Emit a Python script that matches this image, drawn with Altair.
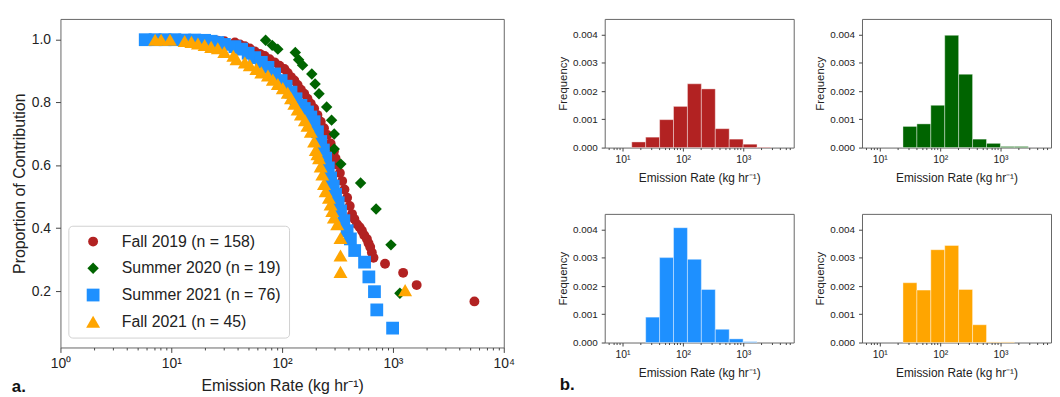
import altair as alt
import pandas as pd

FONT = "Liberation Sans"

SERIES = ["Fall 2019", "Summer 2020", "Summer 2021", "Fall 2021"]
COUNTS = [158, 19, 76, 45]
COLORS = ["#b22222", "#006400", "#1e90ff", "#ffa500"]
SHAPES = ["circle", "diamond", "square", "triangle-up"]
SIZES = [100, 200, 95, 120]

FALL2019_RATE = [6.67, 7.66, 8.78, 10.07, 11.55, 13.24, 15.19, 17.42, 19.98, 22.91,
                 26.28, 30.14, 37.5, 41.6, 46.1, 51.1, 56.6, 62.8, 69.6, 77.1,
                 85.5, 94.7, 104.9, 112.4, 120.3, 128.9, 138.0, 147.8, 158.3, 169.5,
                 181.6, 194.5, 208.3, 223.1, 238.8, 255.8, 274.0, 293.3, 303.5, 314.2,
                 331.9, 348.2, 365.2, 385.9, 407.6, 427.7, 448.6, 473.8, 500.6, 525.2,
                 551.0, 582.1, 602.3, 623.5, 645.1, 667.7, 848.5, 1236, 1637, 5433]
FALL2019_PROP = [1.0, 1.0, 1.0, 1.0, 1.0, 1.0, 1.0, 1.0, 0.999, 0.998,
                 0.997, 0.995, 0.991, 0.985, 0.979, 0.972, 0.963, 0.955, 0.948, 0.938,
                 0.928, 0.917, 0.907, 0.894, 0.881, 0.870, 0.856, 0.841, 0.828, 0.812,
                 0.796, 0.781, 0.760, 0.739, 0.718, 0.697, 0.670, 0.644, 0.623, 0.602,
                 0.576, 0.550, 0.523, 0.497, 0.471, 0.445, 0.429, 0.413, 0.403, 0.392,
                 0.378, 0.366, 0.352, 0.340, 0.323, 0.306, 0.287, 0.258, 0.219, 0.167]

SUMMER2020_RATE = [11.9, 71.0, 81.4, 91.5, 131.5, 140.9, 153.0, 185.3, 198.5, 215.3,
                   252.3, 279.5, 295.3, 295.3, 338.8, 510.6, 704.7, 959.6, 1155]
SUMMER2020_PROP = [1.0, 0.998, 0.982, 0.970, 0.959, 0.936, 0.919, 0.891, 0.859, 0.828,
                   0.786, 0.744, 0.700, 0.652, 0.604, 0.544, 0.461, 0.347, 0.193]

SUMMER2021_RATE = [5.82, 7.15, 8.78, 10.78, 13.24, 16.27, 19.98, 22.91, 26.28, 30.14,
                   37.5, 43.1, 49.4, 56.6, 64.9, 74.5, 85.5, 98.0, 108.6, 120.3,
                   133.5, 147.8, 158.3, 169.5, 181.6, 194.5, 208.3, 223.1, 235.6, 247.2,
                   261.1, 274.0, 289.4, 303.5, 320.7, 336.6, 360.2, 385.9, 413.0, 451.6,
                   554.6, 606.4, 681.2, 714.9, 993.0]
SUMMER2021_PROP = [1.0, 1.0, 1.0, 1.0, 0.999, 0.999, 0.998, 0.995, 0.991, 0.985,
                   0.978, 0.970, 0.957, 0.943, 0.928, 0.912, 0.891, 0.870, 0.852, 0.833,
                   0.812, 0.791, 0.781, 0.770, 0.754, 0.739, 0.707, 0.676, 0.649, 0.623,
                   0.592, 0.560, 0.534, 0.508, 0.481, 0.455, 0.424, 0.392, 0.366, 0.329,
                   0.292, 0.245, 0.198, 0.140, 0.082]

FALL2021_RATE = [7.15, 8.09, 9.73, 13.2, 15.2, 17.4, 20.0, 22.9, 26.3, 30.1,
                 36.3, 38.8, 46.1, 51.1, 58.6, 64.9, 74.5, 82.5, 91.5, 101.4,
                 112.4, 120.3, 128.9, 138.0, 147.8, 160.5, 169.5, 181.6, 194.4, 201.2,
                 208.2, 215.4, 222.9, 230.7, 238.8, 247.1, 264.6, 273.8, 283.4, 293.3,
                 314.1, 336.3, 336.3, 336.3, 1288]
FALL2021_PROP = [1.0, 1.0, 1.0, 0.996, 0.993, 0.988, 0.983, 0.977, 0.973, 0.961,
                 0.949, 0.938, 0.928, 0.919, 0.907, 0.896, 0.886, 0.873, 0.859, 0.846,
                 0.831, 0.814, 0.796, 0.778, 0.762, 0.744, 0.726, 0.707, 0.676, 0.649,
                 0.636, 0.623, 0.597, 0.571, 0.541, 0.518, 0.497, 0.476, 0.455, 0.434,
                 0.413, 0.369, 0.313, 0.261, 0.203]

BIN_EDGES = [14.22, 24.19, 41.14, 69.97, 119.0, 202.3, 344.1, 585.2, 995.0, 1692, 2877]
HIST_FALL2019 = [0.00020, 0.00037, 0.00099, 0.00146, 0.00226, 0.00208, 0.00067, 0.00030, 0.00012, 0.00002]
HIST_SUMMER2020 = [0, 0.00075, 0.00084, 0.00150, 0.00398, 0.00260, 0.00030, 0.00015, 0.00004, 0.00004]
HIST_SUMMER2021 = [0, 0.00090, 0.00301, 0.00407, 0.00295, 0.00188, 0.00047, 0.00013, 0.00003, 0]
HIST_FALL2021 = [0, 0.00212, 0.00186, 0.00329, 0.00344, 0.00188, 0.00063, 0.00002, 0.00002, 0]

MAIN_X_TICKS = [m * 10 ** k for k in range(4) for m in range(1, 10)] + [10000]
HIST_X_TICKS = [6, 7, 8, 9] + [m * 10 ** k for k in range(1, 3) for m in range(1, 10)] + [1000, 2000, 3000, 4000, 5000, 6000]

LABEL_EXPR = ("datum.value === 1 ? '10⁰' : datum.value === 10 ? '10¹' : "
              "datum.value === 100 ? '10²' : datum.value === 1000 ? '10³' : "
              "datum.value === 10000 ? '10⁴' : ''")
MAJOR_TEST = "indexof([1, 10, 100, 1000, 10000], datum.value) >= 0"

labels = [f"{s} (n = {n})" for s, n in zip(SERIES, COUNTS)]
rates = [FALL2019_RATE, SUMMER2020_RATE, SUMMER2021_RATE, FALL2021_RATE]
props = [FALL2019_PROP, SUMMER2020_PROP, SUMMER2021_PROP, FALL2021_PROP]
frames = []
for lab, r, p in zip(labels, rates, props):
    frames.append(pd.DataFrame({"series": lab, "rate": r, "prop": p}))
df = pd.concat(frames, ignore_index=True)

legend = alt.Legend(
    title=None, orient="none", legendX=8, legendY=209,
    labelFont=FONT, labelFontSize=16, labelColor="#222", labelLimit=400,
    symbolSize=140, symbolOffset=9, labelOffset=21, rowPadding=11,
    padding=8, strokeColor="#d0d0d0", fillColor="white", cornerRadius=4,
    symbolStrokeWidth=0,
)

W, H = 448, 332
scatter = alt.Chart(df).mark_point(filled=True, opacity=1, strokeWidth=0).encode(
    x=alt.X("rate:Q",
            scale=alt.Scale(type="log", domain=[1, 10000], nice=False),
            axis=alt.Axis(values=MAIN_X_TICKS, labelExpr=LABEL_EXPR,
                          title="Emission Rate (kg hr⁻¹)", titleFontSize=16,
                          labelFontSize=14, labelPadding=4, titlePadding=7,
                          tickSize={"condition": {"test": MAJOR_TEST, "value": 5}, "value": 2.5},
                          labelFlush=False, labelOverlap=False, grid=False)),
    y=alt.Y("prop:Q",
            scale=alt.Scale(domain=[0.0204, 1.0661], nice=False, zero=False),
            axis=alt.Axis(values=[0.2, 0.4, 0.6, 0.8, 1.0], format=".1f",
                          title="Proportion of Contribution", titleFontSize=16,
                          labelFontSize=14, labelPadding=5, tickSize=5, titlePadding=4,
                          grid=False)),
    color=alt.Color("series:N", scale=alt.Scale(domain=labels, range=COLORS), legend=legend),
    shape=alt.Shape("series:N", scale=alt.Scale(domain=labels, range=SHAPES), legend=legend),
    size=alt.Size("series:N", scale=alt.Scale(domain=labels, range=SIZES), legend=None),
)

tag_a = alt.Chart(pd.DataFrame({"t": ["a."]})).mark_text(
    font=FONT, fontSize=17, fontWeight="bold", align="center", baseline="middle", color="#111"
).encode(x=alt.value(-42), y=alt.value(372), text="t:N")

left = alt.layer(scatter, tag_a).properties(width=W, height=H)

HW, HH = 191, 130


def hist_chart(values, color, tag=None):
    d = pd.DataFrame({"x0": BIN_EDGES[:-1], "x1": BIN_EDGES[1:], "h": values})
    d["base"] = 0.0
    d = d[d["h"] > 0]
    bars = alt.Chart(d).mark_rect(color=color, stroke="white", strokeWidth=0.4).encode(
        x=alt.X("x0:Q",
                scale=alt.Scale(type="log", domain=[5.07, 6855], nice=False),
                axis=alt.Axis(values=HIST_X_TICKS, labelExpr=LABEL_EXPR,
                              title="Emission Rate (kg hr⁻¹)", titleFontSize=12,
                              labelFontSize=10.5, labelPadding=4, titlePadding=7,
                              tickSize={"condition": {"test": MAJOR_TEST, "value": 3.5}, "value": 2},
                              labelFlush=False, labelOverlap=False, grid=False)),
        x2="x1:Q",
        y=alt.Y("h:Q",
                scale=alt.Scale(domain=[0, 0.00456], nice=False),
                axis=alt.Axis(values=[0, 0.001, 0.002, 0.003, 0.004], format=".3f",
                              title="Frequency", titleFontSize=11.5, labelFontSize=10,
                              labelPadding=4, tickSize=3.5, titlePadding=4, grid=False)),
        y2="base:Q",
    )
    layers = [bars]
    if tag:
        layers.append(alt.Chart(pd.DataFrame({"t": [tag]})).mark_text(
            font=FONT, fontSize=17, fontWeight="bold", align="center", baseline="middle", color="#111"
        ).encode(x=alt.value(-38), y=alt.value(173), text="t:N"))
    return alt.layer(*layers).properties(width=HW, height=HH)


h1 = hist_chart(HIST_FALL2019, COLORS[0])
h2 = hist_chart(HIST_SUMMER2020, COLORS[1])
h3 = hist_chart(HIST_SUMMER2021, COLORS[2], tag="b.")
h4 = hist_chart(HIST_FALL2021, COLORS[3])

right = alt.vconcat(
    alt.hconcat(h1, h2, spacing=19),
    alt.hconcat(h3, h4, spacing=19),
    spacing=29,
)

chart = alt.hconcat(left, right, spacing=41).properties(
    padding={"left": 3, "top": 8, "right": 0, "bottom": 0},
    background="white",
).configure_view(
    stroke="#666", strokeWidth=1
).configure_axis(
    domain=False, grid=False, labelFont=FONT, titleFont=FONT,
    labelColor="#222", titleColor="#222", tickColor="#444", titleFontWeight="normal"
)

chart.save("out.html", embed_options={"renderer": "svg", "actions": False})
